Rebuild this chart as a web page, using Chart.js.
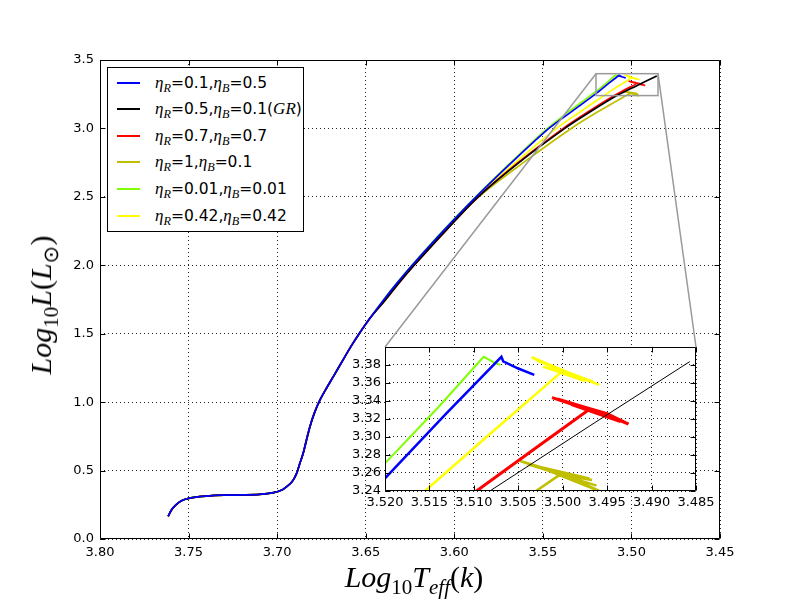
<!DOCTYPE html>
<html>
<head>
<meta charset="utf-8">
<script src="https://cdn.jsdelivr.net/npm/chart.js@4.4.1/dist/chart.umd.min.js"></script>
<style>
body { margin: 0; background: #fff; }
#wrap { position: relative; width: 800px; height: 600px; overflow: hidden; }
#main { position: absolute; left: 0; top: 0; }
#inset { position: absolute; left: 340px; top: 330px; }
.ttl { position: absolute; font-family: "Liberation Serif", serif; font-size: 30px; color: #000; white-space: nowrap; line-height: 1; }
.ttl i, .m { font-family: "Liberation Serif", serif; font-style: italic; }
sub { font-size: 0.7em; vertical-align: -0.32em; line-height: 0; }
#xt { left: 414px; top: 562px; transform: translateX(-50%); }
#yt { left: 41px; top: 305px; transform: translate(-50%, -50%) rotate(-90deg); }
#legend { position: absolute; left: 107px; top: 67px; width: 197px; height: 165px; box-sizing: border-box;
  border: 1px solid #000; background: #fff; font-family: "DejaVu Sans", sans-serif; font-size: 15.5px; color: #000; }
#legend .row { position: absolute; left: 0; height: 24px; display: flex; align-items: center; white-space: nowrap; }
#legend .swatch { display: inline-block; width: 23px; height: 2px; margin-left: 9px; margin-right: 15px; }
#legend .m { font-size: 17px; }
#legend sub { font-size: 0.72em; vertical-align: -0.3em; }
</style>
</head>
<body>
<div id="wrap">
  <canvas id="main" width="800" height="600"></canvas>
  <canvas id="inset" width="380" height="188"></canvas>
  <div id="legend"></div>
  <div class="ttl" id="xt"><i>Log</i><sub>10</sub><i>T</i><sub><i>eff</i></sub>(<i>k</i>)</div>
  <div class="ttl" id="yt"><i>Log</i><sub>10</sub><i>L</i>(<i>L</i><sub>&#x2299;</sub>)</div>
</div>
<script>
// shared pre-main-sequence part of every track (log Teff, log L)
const trackT = [3.7615, 3.7595, 3.7570, 3.7540, 3.7500, 3.7450, 3.7400, 3.7300, 3.7200, 3.7100,
  3.7020, 3.6970, 3.6946, 3.6915, 3.6890, 3.6870, 3.6853, 3.6835, 3.6815, 3.6790,
  3.6758, 3.6720, 3.6683, 3.6623, 3.6577, 3.6537, 3.6472];
const trackL = [0.165, 0.215, 0.252, 0.280, 0.297, 0.308, 0.314, 0.320, 0.322, 0.326,
  0.339, 0.360, 0.382, 0.420, 0.480, 0.560, 0.626, 0.720, 0.821, 0.920,
  1.016, 1.105, 1.186, 1.320, 1.420, 1.500, 1.620];

// upper parts, one per mass-loss pair
const blueT = [3.6397, 3.6320, 3.6238, 3.6063, 3.5877, 3.5677, 3.5466, 3.5330, 3.5200, 3.5132, 3.5069, 3.5067, 3.5050, 3.5032];
const blueL = [1.750, 1.875, 2.000, 2.250, 2.500, 2.750, 3.000, 3.130, 3.254, 3.325, 3.389, 3.384, 3.376, 3.369];
const blackT = [3.6387, 3.6310, 3.6227, 3.6051, 3.5865, 3.5635, 3.5376, 3.5228, 3.5082, 3.4970, 3.4857];
const blackL = [1.750, 1.875, 2.000, 2.250, 2.500, 2.750, 3.000, 3.125, 3.240, 3.312, 3.3837];
const redT = [3.6387, 3.6310, 3.6227, 3.6051, 3.5865, 3.5640, 3.5385, 3.5240, 3.5097, 3.5030, 3.4971,
  3.5012, 3.4950, 3.4926, 3.4965, 3.5005, 3.4940, 3.4990, 3.4935];
const redL = [1.750, 1.875, 2.000, 2.250, 2.500, 2.750, 3.000, 3.125, 3.240, 3.288, 3.330,
  3.3437, 3.3260, 3.3144, 3.3300, 3.3420, 3.3190, 3.3360, 3.3170];
const oliveT = [3.6387, 3.6310, 3.6227, 3.6051, 3.5862, 3.5610, 3.5340, 3.5185, 3.5030, 3.5001, 3.5048,
  3.5001, 3.4967, 3.5000, 3.4959, 3.5010, 3.4970, 3.5040, 3.4962];
const oliveL = [1.750, 1.875, 2.000, 2.250, 2.500, 2.750, 3.000, 3.125, 3.240, 3.2596, 3.2733,
  3.2578, 3.2522, 3.2590, 3.2400, 3.2600, 3.2540, 3.2700, 3.2460];
const greenT = [3.6398, 3.6321, 3.6240, 3.6066, 3.5880, 3.5682, 3.5474, 3.5335, 3.5200, 3.5140, 3.5089, 3.5083, 3.5076, 3.5070];
const greenL = [1.750, 1.875, 2.000, 2.250, 2.500, 2.750, 3.000, 3.140, 3.2707, 3.333, 3.389, 3.386, 3.382, 3.380];
const yellowT = [3.6388, 3.6312, 3.6229, 3.6053, 3.5868, 3.5655, 3.5423, 3.5290, 3.5155, 3.5080, 3.5001,
  3.5035, 3.4990, 3.4959, 3.5029, 3.4966, 3.5022, 3.4975, 3.5010];
const yellowL = [1.750, 1.875, 2.000, 2.250, 2.500, 2.750, 3.000, 3.120, 3.240, 3.305, 3.3726,
  3.3885, 3.3700, 3.3578, 3.3848, 3.3615, 3.3781, 3.3620, 3.3740];

const etaR = ['0.1', '0.5', '0.7', '1', '0.01', '0.42'];
const etaB = ['0.5', '0.1', '0.7', '0.1', '0.01', '0.42'];
const labelNote = ['', 'GR', '', '', '', ''];
const colors = ['#0000ff', '#000000', '#ff0000', '#bfbf00', '#7fff00', '#ffff00'];

// axis ranges and ticks
const xTicksMain = [3.80, 3.75, 3.70, 3.65, 3.60, 3.55, 3.50, 3.45];
const yTicksMain = [0.0, 0.5, 1.0, 1.5, 2.0, 2.5, 3.0, 3.5];
const zoomT = [3.485, 3.520];
const zoomL = [3.24, 3.40];

const tracks = [[blueT, blueL], [blackT, blackL], [redT, redL], [oliveT, oliveL], [greenT, greenL], [yellowT, yellowL]];
const insetWidths = [2.5, 1, 3, 2.5, 2, 2.5];

function points(t, l) {
  const xs = trackT.concat(t), ys = trackL.concat(l);
  return xs.map((v, i) => ({ x: v, y: ys[i] }));
}

function makeDatasets(widths, tension) {
  return tracks.map((tr, i) => ({
    label: 'eta_R=' + etaR[i] + ', eta_B=' + etaB[i],
    data: points(tr[0], tr[1]),
    borderColor: colors[i],
    backgroundColor: colors[i],
    borderWidth: widths[i],
    showLine: true,
    pointRadius: 0,
    tension: tension
  }));
}

Chart.defaults.font.family = '"DejaVu Sans", sans-serif';
Chart.defaults.font.size = 13;
Chart.defaults.color = '#000';

// frame with inward ticks on all four sides (classic matplotlib look)
const framePlugin = {
  id: 'frame',
  beforeDraw(chart, args, opts) {
    if (!opts.fill) return;
    const a = chart.chartArea, c = chart.ctx;
    c.save();
    c.fillStyle = '#fff';
    c.fillRect(a.left, a.top, a.right - a.left, a.bottom - a.top);
    c.restore();
  },
  afterDraw(chart) {
    const a = chart.chartArea, c = chart.ctx, len = 5;
    const L = Math.round(a.left) + 0.5, R = Math.round(a.right) - 0.5;
    const T = Math.round(a.top) + 0.5, B = Math.round(a.bottom) - 0.5;
    c.save();
    c.strokeStyle = '#000';
    c.lineWidth = 1;
    c.beginPath();
    c.rect(L, T, R - L, B - T);
    const xs = chart.scales.x, ys = chart.scales.y;
    xs.ticks.forEach(t => {
      const p = Math.round(xs.getPixelForValue(t.value)) + 0.5;
      c.moveTo(p, B); c.lineTo(p, B - len);
      c.moveTo(p, T); c.lineTo(p, T + len);
    });
    ys.ticks.forEach(t => {
      const p = Math.round(ys.getPixelForValue(t.value)) + 0.5;
      c.moveTo(L, p); c.lineTo(L + len, p);
      c.moveTo(R, p); c.lineTo(R - len, p);
    });
    c.stroke();
    c.restore();
  }
};

function gridOpts() {
  return { color: 'rgba(0,0,0,0.85)', lineWidth: 1, drawTicks: false };
}

const insetCanvas = document.getElementById('inset');
const inset = new Chart(insetCanvas, {
  type: 'scatter',
  data: { datasets: makeDatasets(insetWidths, 0) },
  options: {
    responsive: false,
    animation: false,
    devicePixelRatio: 1,
    layout: { padding: { top: 17, right: 24, left: 0, bottom: 0 } },
    plugins: { legend: { display: false }, tooltip: { enabled: false }, frame: { fill: true } },
    scales: {
      x: {
        type: 'linear', reverse: true, min: zoomT[0], max: zoomT[1],
        grid: gridOpts(), border: { display: false, dash: [1, 3] },
        ticks: { stepSize: 0.005, padding: 4, maxRotation: 0, autoSkip: false, callback: v => v.toFixed(3) },
        afterFit: s => { s.height = 27; }
      },
      y: {
        type: 'linear', min: zoomL[0], max: 3.3999,
        grid: gridOpts(), border: { display: false, dash: [1, 3] },
        ticks: { stepSize: 0.02, padding: 4, includeBounds: false, autoSkip: false, callback: v => v.toFixed(2) },
        afterFit: s => { s.width = 45; }
      }
    }
  },
  plugins: [framePlugin]
});

// zoom rectangle and its connector lines to the inset
const zoomPlugin = {
  id: 'zoombox',
  afterDatasetsDraw(chart) {
    const xs = chart.scales.x, ys = chart.scales.y, c = chart.ctx;
    const x1 = xs.getPixelForValue(zoomT[1]), x2 = xs.getPixelForValue(zoomT[0]);
    const y1 = ys.getPixelForValue(zoomL[1]), y2 = ys.getPixelForValue(zoomL[0]);
    const ia = inset.chartArea;
    const ox = insetCanvas.offsetLeft, oy = insetCanvas.offsetTop;
    c.save();
    c.strokeStyle = '#9a9a9a';
    c.lineWidth = 1.5;
    c.strokeRect(x1, y1, x2 - x1, y2 - y1);
    c.beginPath();
    c.moveTo(x1, y1); c.lineTo(ox + ia.left, oy + ia.top);
    c.moveTo(x2, y1); c.lineTo(ox + ia.right, oy + ia.top);
    c.stroke();
    c.restore();
  }
};

new Chart(document.getElementById('main'), {
  type: 'scatter',
  data: { datasets: makeDatasets([1.7, 1.7, 1.7, 1.7, 1.7, 1.7], 0.3) },
  options: {
    responsive: false,
    animation: false,
    devicePixelRatio: 1,
    layout: { padding: { top: 60, right: 80, left: 0, bottom: 0 } },
    plugins: { legend: { display: false }, tooltip: { enabled: false }, frame: { fill: false } },
    scales: {
      x: {
        type: 'linear', reverse: true, min: xTicksMain[xTicksMain.length - 1], max: xTicksMain[0],
        grid: gridOpts(), border: { display: false, dash: [1, 3] },
        ticks: { stepSize: 0.05, padding: 6, maxRotation: 0, autoSkip: false, callback: v => v.toFixed(2) },
        afterFit: s => { s.height = 61; }
      },
      y: {
        type: 'linear', min: yTicksMain[0], max: yTicksMain[yTicksMain.length - 1],
        grid: gridOpts(), border: { display: false, dash: [1, 3] },
        ticks: { stepSize: 0.5, padding: 6, autoSkip: false, callback: v => v.toFixed(1) },
        afterFit: s => { s.width = 100; }
      }
    }
  },
  plugins: [framePlugin, zoomPlugin]
});

// legend with math subscripts
const legend = document.getElementById('legend');
colors.forEach((col, i) => {
  const row = document.createElement('div');
  row.className = 'row';
  row.style.top = (2.5 + i * 26.6) + 'px';
  let txt = '<span class="m">&eta;<sub>R</sub></span>=' + etaR[i] +
    ',<span class="m">&eta;<sub>B</sub></span>=' + etaB[i];
  if (labelNote[i]) txt += '(<span class="m">' + labelNote[i] + '</span>)';
  row.innerHTML = '<span class="swatch" style="background:' + col + '"></span><span>' + txt + '</span>';
  legend.appendChild(row);
});
</script>
</body>
</html>
